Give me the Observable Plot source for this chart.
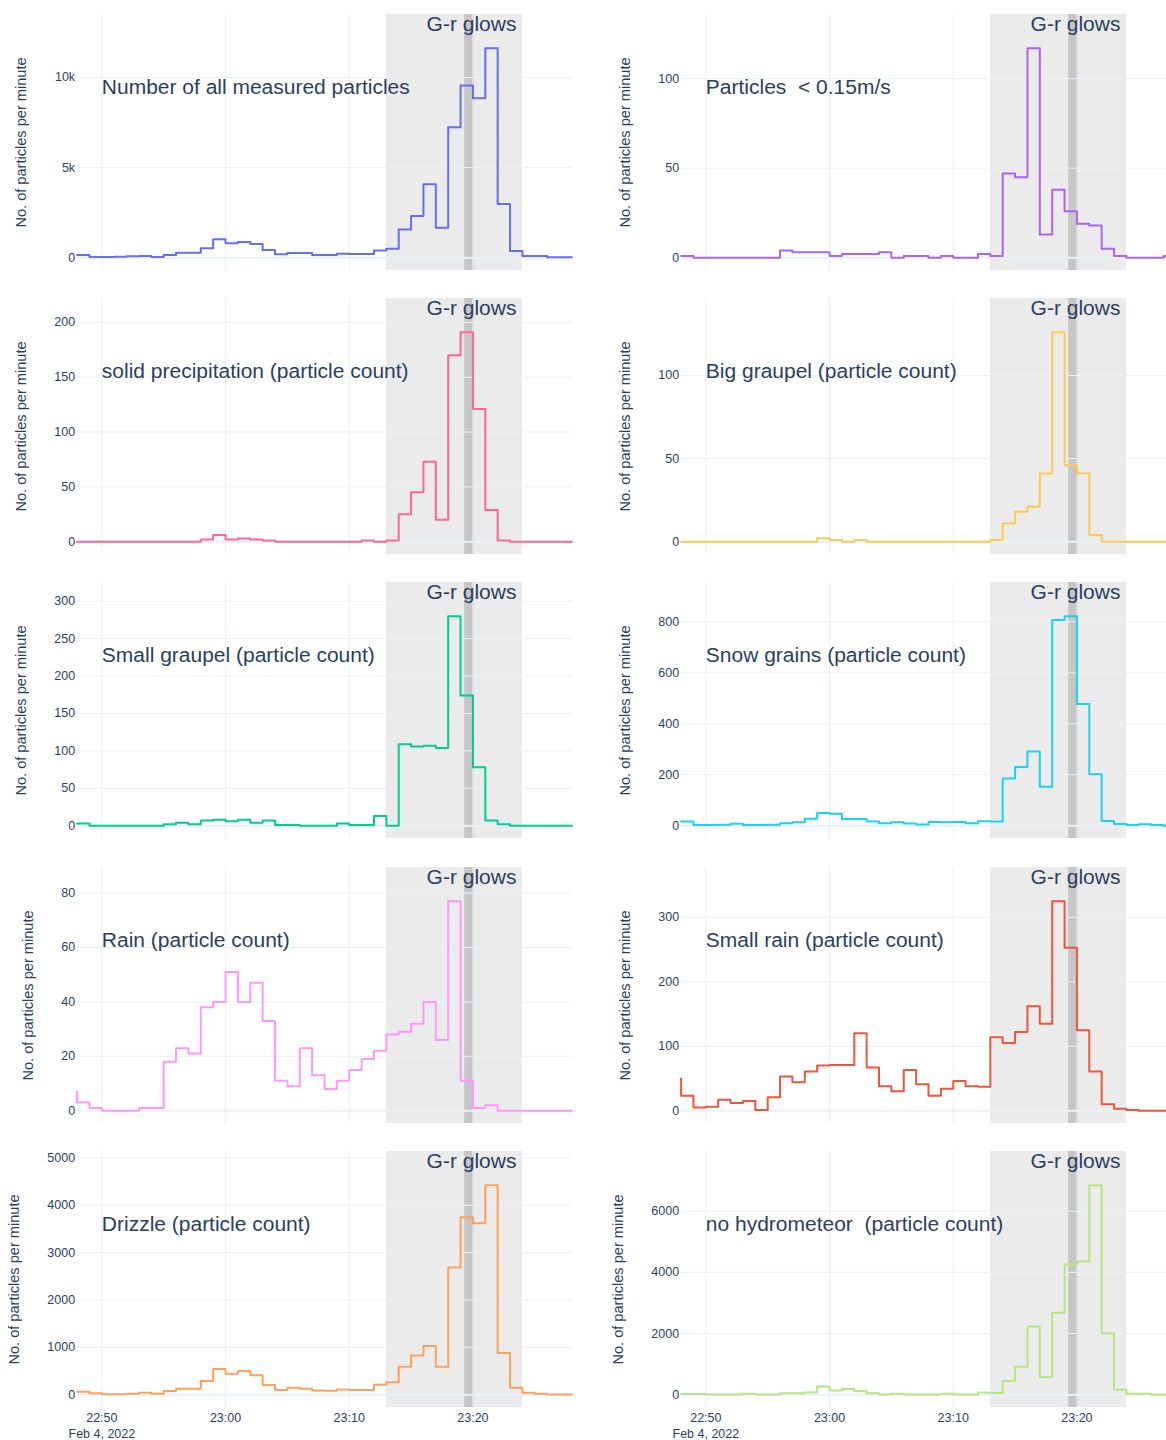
<!DOCTYPE html>
<html>
<head>
<meta charset="utf-8">
<script src="https://cdn.jsdelivr.net/npm/d3@7"></script>
<script src="https://cdn.jsdelivr.net/npm/@observablehq/plot@0.6"></script>
<style>
  html, body { margin: 0; padding: 0; background: #fff; }
  #fig { position: relative; width: 1166px; height: 1440px; overflow: hidden; background: #fff; }
  #fig > div { position: absolute; }
</style>
</head>
<body>
<div id="fig"></div>
<script>
// ---------- data ----------
const day = "2022-02-04";
const startTime = "22:48:00";
const endTime = "23:28:00";
const xTickLabels = ["22:50", "23:00", "23:10", "23:20"];
const dateLabel = "Feb 4, 2022";
const glowBand = ["23:13:00", "23:24:00"];
const glowPeak = ["23:19:20", "23:20:06"];
const bandLabel = "G-r glows";
const yTitle = "No. of particles per minute";

// per-minute values, one per minute from 22:48 to 23:27
const allParticles = [150, 40, 40, 55, 75, 90, 40, 150, 280, 280, 520, 1020, 800, 870, 760, 425, 185, 260, 260, 150,
  150, 220, 200, 200, 400, 500, 1570, 2310, 4080, 1660, 7230, 9550, 8850, 11620, 2980, 370, 90, 90, 20, 20];
const slowParticles = [1, 0, 0, 0, 0, 0, 0, 0, 4, 3, 3, 3, 1, 2, 2, 2, 3, 0, 1, 1,
  0, 1, 0, 0, 2, 1, 47, 45, 117, 13, 38, 26, 19, 18, 5, 1, 0, 0, 0, 1];
const solidPrecip = [0, 0, 0, 0, 0, 0, 0, 0, 0, 0, 2, 6, 2, 3, 2, 1, 0, 0, 0, 0,
  0, 0, 0, 1, 0, 1, 25, 45, 73, 20, 170, 191, 121, 29, 1, 0, 0, 0, 0, 0];
const bigGraupel = [0, 0, 0, 0, 0, 0, 0, 0, 0, 0, 0, 2, 1, 0, 1, 0, 0, 0, 0, 0,
  0, 0, 0, 0, 0, 1, 11, 18, 21, 41, 126, 46, 41, 4, 0, 0, 0, 0, 0, 0];
const smallGraupel = [3, 0, 0, 0, 0, 0, 0, 2, 4, 2, 7, 8, 6, 8, 4, 7, 1, 1, 0, 0,
  0, 3, 1, 1, 13, 0, 109, 106, 107, 104, 280, 174, 78, 7, 2, 0, 0, 0, 0, 0];
const snowGrains = [16, 3, 3, 4, 8, 3, 3, 4, 10, 13, 27, 50, 47, 26, 26, 16, 10, 13, 9, 5,
  14, 13, 14, 10, 17, 16, 185, 230, 291, 153, 807, 822, 478, 202, 18, 7, 3, 6, 3, 0];
const rain = [3, 1, 0, 0, 0, 1, 1, 18, 23, 21, 38, 40, 51, 40, 47, 33, 11, 9, 23, 13,
  8, 11, 15, 19, 22, 28, 29, 32, 40, 26, 77, 11, 1, 2, 0, 0, 0, 0, 0, 0];
const smallRain = [23, 5, 6, 17, 12, 15, 1, 21, 53, 44, 61, 70, 71, 71, 120, 67, 38, 30, 63, 41,
  23, 34, 46, 38, 37, 114, 105, 122, 162, 135, 325, 253, 125, 61, 10, 3, 1, 0, 0, 0];
const drizzle = [63, 28, 7, 7, 21, 42, 21, 77, 127, 127, 288, 541, 443, 499, 408, 204, 98, 148, 127, 91,
  84, 112, 98, 98, 211, 260, 590, 830, 1026, 590, 2685, 3747, 3620, 4422, 879, 148, 42, 21, 5, 5];
const noHydrometeor = [20, 20, 10, 10, 10, 30, 10, 10, 45, 45, 75, 270, 140, 185, 120, 45, 10, 30, 10, 10,
  10, 30, 10, 10, 75, 55, 450, 910, 2230, 570, 2680, 4260, 4360, 6850, 2000, 165, 30, 30, 0, 0];
// value at the very first instant (left edge) where it differs from the first minute
const rainLeftEdge = 7;
const smallRainLeftEdge = 50;

const titles = ["Number of all measured particles", "Particles  < 0.15m/s",
  "solid precipitation (particle count)", "Big graupel (particle count)",
  "Small graupel (particle count)", "Snow grains (particle count)",
  "Rain (particle count)", "Small rain (particle count)",
  "Drizzle (particle count)", "no hydrometeor  (particle count)"];

const ticksAll = [0, 5000, 10000];
const ticksSlow = [0, 50, 100];
const ticksSolid = [0, 50, 100, 150, 200];
const ticksBig = [0, 50, 100];
const ticksSmallG = [0, 50, 100, 150, 200, 250, 300];
const ticksSnow = [0, 200, 400, 600, 800];
const ticksRain = [0, 20, 40, 60, 80];
const ticksSmallRain = [0, 100, 200, 300];
const ticksDrizzle = [0, 1000, 2000, 3000, 4000, 5000];
const ticksNoHydro = [0, 2000, 4000, 6000];

// ---------- styling / layout ----------
const colors = ["#636efa", "#ab63fa", "#FF6692", "#FECB52", "#00cc96", "#19d3f3", "#FF97FF", "#EF553B", "#FFA15A", "#B6E880"];
const panels = [
  {values: allParticles, ticks: ticksAll, fmt: d3.format("~s")},
  {values: slowParticles, ticks: ticksSlow},
  {values: solidPrecip, ticks: ticksSolid},
  {values: bigGraupel, ticks: ticksBig},
  {values: smallGraupel, ticks: ticksSmallG},
  {values: snowGrains, ticks: ticksSnow},
  {values: rain, ticks: ticksRain, edge: rainLeftEdge},
  {values: smallRain, ticks: ticksSmallRain, edge: smallRainLeftEdge},
  {values: drizzle, ticks: ticksDrizzle},
  {values: noHydrometeor, ticks: ticksNoHydro}
].map((p, i) => ({...p, title: titles[i], color: colors[i], row: Math.floor(i / 2), col: i % 2}));

const parse = d3.utcParse("%Y-%m-%d %H:%M:%S");
const T = s => parse(`${day} ${s.length === 5 ? s + ":00" : s}`);
const t0 = T(startTime), tEnd = T(endTime);
const xTicks = xTickLabels.map(T);
const hm = d3.utcFormat("%H:%M");

function series(values, edge) {
  const pts = [{t: t0, v: edge ?? values[0]}];
  values.forEach((v, i) => pts.push({t: d3.utcMinute.offset(t0, i), v}));
  pts.push({t: tEnd, v: values[values.length - 1]});
  return pts;
}

const frameLefts = [76.6, 681];
const frameW = 494.8, frameH = 256, top0 = 13.8, rowPitch = 284.3;
const mL = 76.6, mR = 12, mT = 8;
const ink = "#2a3f5f", grid = "#EBF0F8";
const font = "'Liberation Sans', Arial, sans-serif";

const fig = document.getElementById("fig");
for (const p of panels) {
  const bottom = p.row === 4;
  const mB = bottom ? 44 : 8;
  const fmt = p.fmt || d3.format("d");
  const maxV = d3.max(p.values);
  const labelW = d3.max(p.ticks, d => fmt(d).length) * 6.95;
  const marks = [
    Plot.rect([glowBand], {x1: d => T(d[0]), x2: d => T(d[1]), fill: "#ebebeb"}),
    Plot.rect([glowPeak], {x1: d => T(d[0]), x2: d => T(d[1]), fill: "#c6c6c6"}),
    Plot.gridX(xTicks, {stroke: grid, strokeOpacity: 1, strokeWidth: 1}),
    Plot.gridY(p.ticks, {stroke: grid, strokeOpacity: 1, strokeWidth: 1}),
    Plot.ruleY([0], {stroke: grid, strokeOpacity: 1, strokeWidth: 2}),
    Plot.line(series(p.values, p.edge), {x: "t", y: "v", curve: "step-after", stroke: p.color, strokeWidth: 2}),
    Plot.axisY(p.ticks, {tickSize: 0, tickPadding: 2, tickFormat: fmt, fontSize: 12.5, fill: ink, label: null}),
    Plot.text([yTitle], {text: d => d, frameAnchor: "left", rotate: -90, dx: -(34.5 + labelW),
      fontSize: 14.6, fill: ink, textAnchor: "middle", lineAnchor: "middle"}),
    Plot.text([p.title], {text: d => d, x: () => xTicks[0], frameAnchor: "top", dy: 80,
      lineAnchor: "bottom", textAnchor: "start", fontSize: 21, fill: ink}),
    Plot.text([bandLabel], {text: d => d, x: () => T(glowBand[1]), frameAnchor: "top", dy: 17, dx: -6,
      lineAnchor: "bottom", textAnchor: "end", fontSize: 21, fill: ink})
  ];
  if (bottom) {
    marks.push(Plot.axisX(xTicks, {
      tickSize: 0, tickPadding: 3, fontSize: 12.5, fill: ink, label: null, lineHeight: 1.28,
      tickFormat: d => +d === +xTicks[0] ? `${hm(d)}\n${dateLabel}` : hm(d)
    }));
  }
  const width = mL + frameW + mR, height = mT + frameH + mB;
  const chart = Plot.plot({
    width, height,
    marginLeft: mL, marginRight: mR, marginTop: mT, marginBottom: mB,
    x: {type: "utc", domain: [t0, tEnd], axis: null},
    y: {domain: [-0.0611 * maxV, 1.1611 * maxV], axis: null},
    style: {fontFamily: font, fontSize: "12.5px", color: ink, background: "white", maxWidth: "none", overflow: "visible"},
    marks
  });
  const holder = document.createElement("div");
  holder.style.left = (frameLefts[p.col] - mL) + "px";
  holder.style.top = (top0 + p.row * rowPitch - mT) + "px";
  holder.style.width = width + "px";
  holder.style.height = height + "px";
  holder.appendChild(chart);
  fig.appendChild(holder);
}
</script>
</body>
</html>
